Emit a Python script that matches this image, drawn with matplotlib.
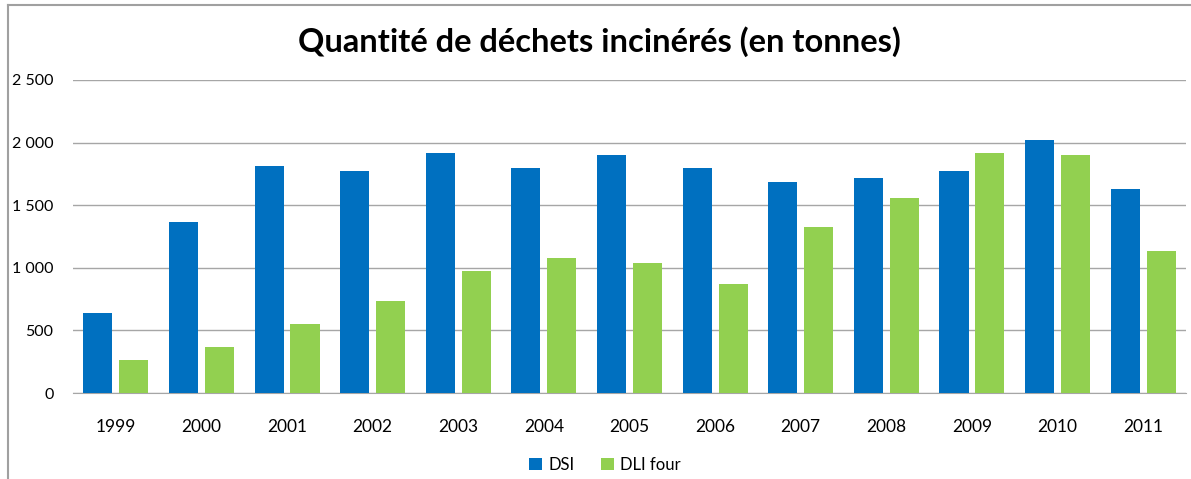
import matplotlib
matplotlib.use("Agg")
import matplotlib.pyplot as plt
import numpy as np
from matplotlib.lines import Line2D

# Quantité de déchets incinérés
annees = ["1999", "2000", "2001", "2002", "2003", "2004", "2005",
          "2006", "2007", "2008", "2009", "2010", "2011"]
dsi = [639, 1366, 1813, 1773, 1917, 1797, 1901, 1797, 1685, 1717, 1773, 2021, 1629]
dli_four = [264, 367, 551, 735, 974, 1078, 1038, 871, 1326, 1558, 1917, 1901, 1134]
y_ticks = [0, 500, 1000, 1500, 2000, 2500]

plt.rcParams['font.family'] = ['Lato', 'DejaVu Sans']

fig = plt.figure(figsize=(11.91, 4.79), dpi=100)
ax = fig.add_axes([0.0613, 0.1795, 0.9345, 0.6535])

x = np.arange(len(annees))
w = 0.34
ax.bar(x - 0.21, dsi, w, color='#0070C0', label='DSI', zorder=3)
ax.bar(x + 0.21, dli_four, w, color='#92D050', label='DLI four', zorder=3)

ax.set_xlim(-0.5, len(annees) - 0.5)
ax.set_ylim(0, 2500)
ax.set_yticks(y_ticks)
ax.set_yticklabels(["{:,}".format(v).replace(",", " ") for v in y_ticks])
ax.set_xticks(x)
ax.set_xticklabels(annees)
ax.tick_params(length=0, colors='black')
ax.tick_params(axis='x', pad=19, labelsize=12.5)
ax.tick_params(axis='y', pad=14, labelsize=11.5)
ax.grid(axis='y', color='#a6a6a6', linewidth=1, zorder=0)
for s in ['top', 'right', 'left']:
    ax.spines[s].set_visible(False)
ax.spines['bottom'].set_color('#a6a6a6')

fig.suptitle("Quantité de déchets incinérés (en tonnes)", fontsize=23.5,
             fontweight='bold', x=0.503, y=0.945)

ax.legend(loc='upper center', bbox_to_anchor=(0.478, -0.155), ncol=2,
          frameon=False, fontsize=12, handlelength=0.75, handleheight=0.75,
          columnspacing=1.6, handletextpad=0.4)

# cadre du graphique
fig.add_artist(Line2D([8 / 1191, 1], [1 - 5 / 479] * 2, color='#a0a0a0', lw=1.5))
fig.add_artist(Line2D([8 / 1191] * 2, [0, 1 - 5 / 479], color='#a0a0a0', lw=1.5))

fig.savefig("out.png", dpi=100)
